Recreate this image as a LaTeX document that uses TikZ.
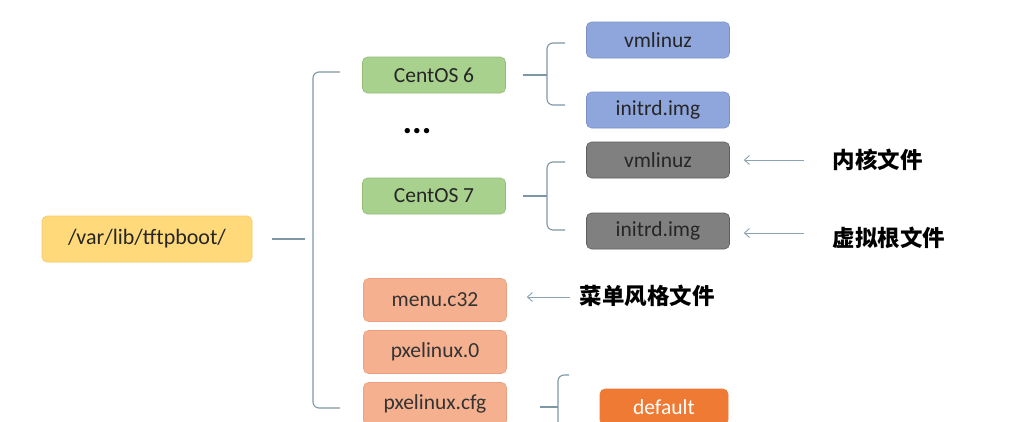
\documentclass[tikz,border=0pt]{standalone}
\usepackage{fontspec}
\usetikzlibrary{arrows.meta,calc}
\setmainfont{Carlito}
\newfontfamily\cjk{Noto Sans CJK SC}
\begin{document}
\begin{tikzpicture}[x=1pt,y=-1pt,
  box/.style={draw, line width=0.6pt, rounded corners=5pt, minimum width=143pt, minimum height=36pt, inner sep=0pt, font=\fontsize{21.5}{24}\selectfont},
  yellowbox/.style={box, fill=yellowF, draw=yellowD, minimum width=210pt, minimum height=46pt, font=\fontsize{22}{25}\selectfont, text=black!85},
  greenbox/.style={box, fill=greenF, draw=greenD, text=black!85},
  bluebox/.style={box, fill=blueF, draw=blueD, text=black!85},
  graybox/.style={box, fill=grayF, draw=grayD, text=black!85},
  salmonbox/.style={box, fill=salmonF, draw=salmonD, text=black!80, minimum height=43pt},
  orangebox/.style={box, fill=orangeF, draw=orangeF, text=white, minimum width=128pt},
  brace/.style={draw=braceC, line width=1.1pt, rounded corners=6pt},
  note/.style={font=\cjk\bfseries\fontsize{22.5}{26}\selectfont},
  pointer/.style={draw=arrowC, line width=0.9pt, -{Straight Barb[length=5pt,width=9pt]}}
]
\definecolor{yellowF}{HTML}{FFD97A}
\definecolor{yellowD}{HTML}{F5C863}
\definecolor{greenF}{HTML}{A9D18E}
\definecolor{greenD}{HTML}{93BC77}
\definecolor{blueF}{HTML}{8FA6DC}
\definecolor{blueD}{HTML}{7A90C6}
\definecolor{grayF}{HTML}{808080}
\definecolor{grayD}{HTML}{5E5E5E}
\definecolor{salmonF}{HTML}{F5B08F}
\definecolor{salmonD}{HTML}{EBA07D}
\definecolor{orangeF}{HTML}{EE7A34}
\definecolor{braceC}{HTML}{7E97A6}
\definecolor{arrowC}{HTML}{8CA3B3}
\useasboundingbox (0,0) rectangle (1012,421);
\clip (0,0) rectangle (1012,421);
\fill[white] (0,0) rectangle (1012,421);

\node[yellowbox] (root) at (147,239) {/var/lib/tftpboot/};
\node[greenbox] (c6) at (434,75) {CentOS 6};
\node[font=\bfseries\fontsize{36}{38}\selectfont] (dots) at (417,131) {...};
\node[greenbox] (c7) at (434,196) {CentOS 7};
\node[salmonbox] (menu) at (435,300) {menu.c32};
\node[salmonbox] (pxe0) at (435,352) {pxelinux.0};
\node[salmonbox] (pxecfg) at (435,404) {pxelinux.cfg};

\node[bluebox] (vm6) at (658,40) {vmlinuz};
\node[bluebox] (in6) at (658,110) {initrd.img};
\node[graybox] (vm7) at (658,160) {vmlinuz};
\node[graybox] (in7) at (658,231) {initrd.img};
\node[orangebox] (def) at (664,407) {default};

\node[note, anchor=west] (kern) at (829,160) {内核文件};
\node[note, anchor=west] (virt) at (829,238) {虚拟根文件};
\node[note, anchor=west] (menun) at (576,296) {菜单风格文件};

% big brace
\draw[brace] ($(root.east)+(20,0)$) -- ++(33,0);
\draw[brace] (340,72) -- (313,72) -- (313,408) -- (340,408);
% CentOS 6 brace
\draw[brace] ($(c6.east)+(17,0)$) -- ++(24,0);
\draw[brace] (565,43) -- (547,43) -- (547,105) -- (565,105);
% CentOS 7 brace
\draw[brace] ($(c7.east)+(17,0)$) -- ++(24,0);
\draw[brace] (565,162) -- (547,162) -- (547,230) -- (565,230);
% pxelinux.cfg brace
\draw[brace] ($(pxecfg.east)+(33,3)$) -- ++(18,0);
\draw[brace] (569,375) -- (558,375) -- (558,430);

% pointers
\draw[pointer] ($(kern.west)+(-25,0)$) -- ($(vm7.east)+(14,0)$);
\draw[pointer] (804,233) -- ($(in7.east |- 0,233)+(14,0)$);
\draw[pointer] ($(menun.west)+(-6,1)$) -- ($(menu.east |- 0,297)+(20,0)$);
\end{tikzpicture}
\end{document}
